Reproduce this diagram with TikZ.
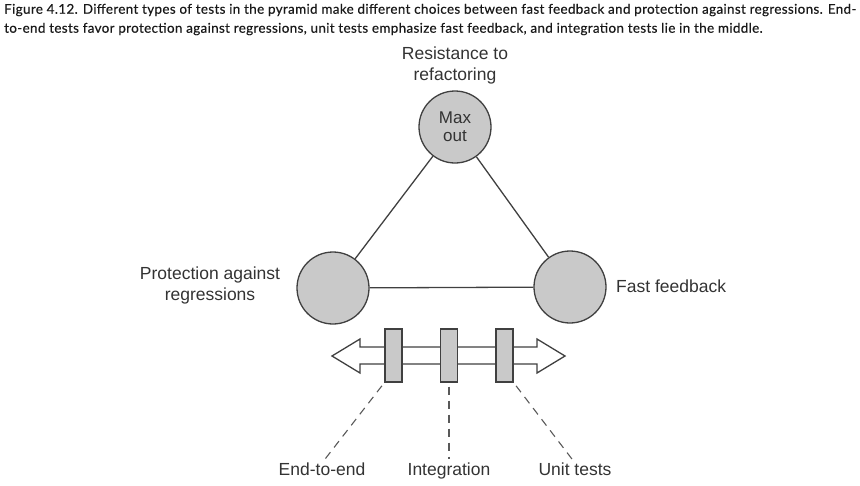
\documentclass[tikz,border=0pt]{standalone}
\usepackage{fontspec}
\setmainfont{Liberation Sans}
\newfontfamily\capfont[LetterSpace=2.5,FakeBold=0.4]{Lato}
\begin{document}
\begin{tikzpicture}[x=1pt,y=-1pt,
  ink/.style={draw=black!75, line width=1.3pt},
  ball/.style={circle, ink, fill=black!21, minimum size=72pt, inner sep=0pt, align=center, font=\fontsize{17}{20}\selectfont, text=black!80},
  lbl/.style={font=\fontsize{17.5}{21}\selectfont, text=black!80, align=center, inner sep=0pt},
  bar/.style={rectangle, ink, fill=black!21, minimum width=17pt, minimum height=53pt, inner sep=0pt},
  lead/.style={draw=black!65, line width=1.1pt, dash pattern=on 8pt off 6pt},
  captext/.style={font=\capfont\fontsize{13.45}{15}\selectfont, text=black!90, anchor=west, inner sep=0pt}]
\useasboundingbox (0,0) rectangle (860,485);
\node[captext] (c1) at (4,10) {Figure 4.12. Different types of tests in the pyramid make different choices between fast feedback and protection against regressions. End-};
\node[captext] (c2) at (4,29) {to-end tests favor protection against regressions, unit tests emphasize fast feedback, and integration tests lie in the middle.};
\node[ball] (top) at (455,127) {Max\\[-2pt]out};
\node[ball] (left) at (333,288) {};
\node[ball] (right) at (570,287) {};
\draw[ink] (top) -- (left);
\draw[ink] (top) -- (right);
\draw[ink] (left) -- (right);
\node[lbl] (rt) at (455,65) {Resistance to\\refactoring};
\node[lbl] (pr) at (210,285) {Protection against\\regressions};
\node[lbl, anchor=west] (ff) at (616,286) {Fast feedback};
% double arrow
\draw[ink, fill=white] (332,356) -- (360,339) -- (360,347) -- (537,347) -- (537,339) -- (565,356) -- (537,373) -- (537,364) -- (360,364) -- (360,373) -- cycle;
\node[bar] (r1) at (393.5,355.5) {};
\node[bar] (r2) at (449,355.5) {};
\node[bar] (r3) at (504.5,355.5) {};
\node[lbl, anchor=north] (e2e) at (322,463) {End-to-end};
\node[lbl, anchor=north] (int) at (449,463) {Integration};
\node[lbl, anchor=north] (ut) at (575,463) {Unit tests};
\draw[lead, shorten <=4pt, shorten >=4pt] (r1.south west) -- (e2e.north);
\draw[lead, shorten <=4pt, shorten >=4pt] (r2.south) -- (int.north);
\draw[lead, shorten <=4pt, shorten >=4pt] (r3.south east) -- (ut.north);
\end{tikzpicture}
\end{document}
